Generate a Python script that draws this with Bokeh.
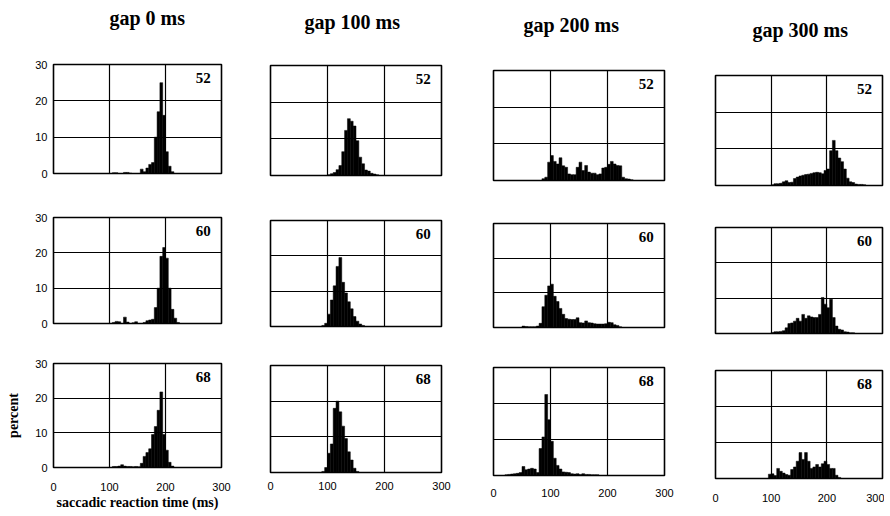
from bokeh.plotting import figure
from bokeh.layouts import row, column
from bokeh.models import Label, FixedTicker, Title
from bokeh.embed import file_html
from bokeh.resources import INLINE

# ---------------- data ----------------
gap_titles = ["gap 0 ms", "gap 100 ms", "gap 200 ms", "gap 300 ms"]
panel_tags = ["52", "60", "68"]
x_tick_values = [0, 100, 200, 300]
y_tick_values = [0, 10, 20, 30]
x_grid_values = [100, 200]
y_grid_values = [10, 20]
bin_ms = 5
x_label = "saccadic reaction time (ms)"
y_label = "percent"

# first bin (ms) and percent of saccades in consecutive 5-ms bins
gap0_52_start = 105
gap0_52 = [0.2, 0.2, 0.0, 0.0, 0.3, 0.3, 0.1, 0.0, 0.0, 0.0, 1.2, 0.5, 1.5, 2.5, 3.0,
           10.0, 17.0, 25.0, 16.0, 6.0, 2.0, 0.5]
gap0_60_start = 105
gap0_60 = [0.3, 0.6, 0.5, 0.0, 1.8, 0.4, 0.0, 0.2, 0.5, 0.0, 0.0, 0.3, 0.8, 1.0, 1.2,
           4.5, 10.0, 19.0, 21.5, 18.5, 10.0, 4.0, 1.5, 0.3]
gap0_68_start = 105
gap0_68 = [0.3, 0.3, 0.4, 0.8, 0.4, 0.3, 0.3, 0.2, 0.3, 0.2, 1.2, 3.2, 4.3, 5.4, 9.5,
           11.8, 16.5, 21.8, 9.5, 5.0, 1.5, 0.4]

gap100_52_start = 100
gap100_52 = [0.2, 0.5, 0.8, 1.6, 2.7, 6.5, 12.3, 15.5, 14.8, 13.5, 9.5, 5.0, 3.2, 1.5,
             1.2, 0.6, 0.4, 0.2]
gap100_60_start = 90
gap100_60 = [0.3, 0.9, 3.5, 7.5, 11.5, 17.0, 19.5, 12.5, 9.5, 7.0, 5.0, 2.8, 1.5, 0.7, 0.3]
gap100_68_start = 90
gap100_68 = [0.3, 1.4, 5.4, 8.0, 18.0, 20.0, 17.0, 13.0, 9.5, 5.8, 3.5, 1.2, 0.3]

gap200_52_start = 85
gap200_52 = [0.5, 0.9, 5.0, 6.8, 5.2, 4.5, 6.2, 4.0, 3.6, 1.8, 1.6, 1.6, 3.6, 5.0, 2.7,
             4.1, 2.3, 2.0, 2.0, 1.6, 1.8, 3.4, 3.6, 4.4, 5.2, 4.5, 4.1, 4.0, 0.9, 0.5,
             0.4, 0.2]
gap200_60_start = 50
gap200_60 = [0.4, 0.3, 0.2, 0.2, 0.2, 0.4, 1.2, 6.0, 9.3, 12.0, 12.5, 9.0, 7.5, 5.5, 3.8,
             2.6, 2.4, 2.3, 2.3, 2.8, 1.4, 1.3, 1.9, 1.4, 1.3, 1.1, 1.0, 1.0, 1.0, 1.1,
             1.5, 1.4, 0.8, 0.6, 0.2]
gap200_68_start = 20
gap200_68 = [0.2, 0.3, 0.4, 0.5, 0.6, 0.8, 2.5, 1.6, 1.8, 2.0, 1.8, 0.8, 7.5, 10.7, 22.5,
             15.5, 9.5, 4.8, 2.8, 1.8, 1.0, 0.9, 0.8, 0.5, 0.4, 0.5, 0.3, 0.5, 0.3, 0.3,
             0.2, 0.2, 0.2]

gap300_52_start = 100
gap300_52 = [0.2, 0.5, 0.5, 0.6, 1.0, 1.3, 0.8, 0.9, 1.9, 2.3, 2.6, 2.8, 3.0, 3.1, 3.3,
             3.5, 3.6, 3.5, 3.2, 4.1, 4.5, 9.5, 12.3, 9.5, 7.5, 6.5, 4.5, 2.0, 1.0, 0.8,
             0.4, 0.3, 0.3, 0.2]
gap300_60_start = 100
gap300_60 = [0.3, 0.5, 0.5, 0.6, 0.8, 1.6, 2.8, 3.0, 3.5, 4.3, 3.5, 5.4, 4.3, 5.0, 4.7,
             4.5, 4.5, 5.4, 10.2, 8.3, 7.3, 9.7, 4.5, 2.1, 1.2, 1.0, 0.5, 0.4, 0.2, 0.2]
gap300_68_start = 95
gap300_68 = [1.2, 1.3, 0.8, 2.8, 2.0, 1.5, 1.1, 0.9, 2.5, 3.2, 4.8, 7.2, 5.3, 7.2, 4.8,
             2.8, 3.2, 3.9, 3.2, 4.1, 4.8, 3.9, 2.8, 2.8, 0.9, 0.3]

series = [
    [(gap0_52_start, gap0_52), (gap0_60_start, gap0_60), (gap0_68_start, gap0_68)],
    [(gap100_52_start, gap100_52), (gap100_60_start, gap100_60), (gap100_68_start, gap100_68)],
    [(gap200_52_start, gap200_52), (gap200_60_start, gap200_60), (gap200_68_start, gap200_68)],
    [(gap300_52_start, gap300_52), (gap300_60_start, gap300_60), (gap300_68_start, gap300_68)],
]

# ---------------- layout / style ----------------
SERIF = "Liberation Serif"
SANS = "Liberation Sans"
col_frame_w = [168, 171, 171, 167]
col_border_lr = [(53, 10), (39, 10), (42, 10), (41, 2)]
col_rows = [  # (top border, frame height, bottom border)
    [(64, 109, 22), (22, 106, 20), (20, 105, 44)],
    [(65, 110, 22), (23, 106, 20), (19, 107, 36)],
    [(70, 110, 22), (21, 104, 20), (20, 108, 33)],
    [(75, 110, 20), (22, 106, 18), (19, 108, 30)],
]
title_gap = [32, 29, 31, 31]
title_offset = [56, 34, 30, 37]
xtick_standoff = [15, 9, 13, 15]

columns = []
for c in range(4):
    bl, br = col_border_lr[c]
    figs = []
    for r in range(3):
        bt, fh, bb = col_rows[c][r]
        p = figure(width=bl + col_frame_w[c] + br, height=bt + fh + bb,
                   x_range=(0, 300), y_range=(0, 30),
                   min_border_left=bl, min_border_right=br,
                   min_border_top=bt, min_border_bottom=bb,
                   toolbar_location=None, output_backend="svg")
        p.background_fill_color = "white"
        p.border_fill_color = "white"
        p.outline_line_color = "black"
        p.outline_line_width = 1.6
        p.outline_line_alpha = 1.0

        if r == 0:
            spacer = Title(text=" ", text_font_size="2px", standoff=title_gap[c])
            head = Title(text=gap_titles[c], align="left", offset=title_offset[c],
                         vertical_align="bottom", standoff=0,
                         text_font=SERIF, text_font_style="bold",
                         text_font_size="20px", text_color="black")
            p.add_layout(spacer, "above")
            p.add_layout(head, "above")

        for ax in (p.xaxis[0], p.yaxis[0]):
            ax.axis_line_color = None
            ax.major_tick_line_color = None
            ax.minor_tick_line_color = None
            ax.major_tick_out = 0
            ax.major_tick_in = 0
            ax.major_label_text_font = SANS
            ax.major_label_text_font_size = "11px"
            ax.major_label_text_color = "black"
            ax.axis_label_text_font = SERIF
            ax.axis_label_text_font_style = "bold"
            ax.axis_label_text_font_size = "14px"
            ax.axis_label_text_color = "black"
        p.xaxis.ticker = FixedTicker(ticks=x_tick_values)
        p.yaxis.ticker = FixedTicker(ticks=y_tick_values)
        p.xaxis.major_label_standoff = xtick_standoff[c]
        p.yaxis.major_label_standoff = 6
        if c != 0:
            p.yaxis.visible = False
        if r != 2:
            p.xaxis.visible = False
        if c == 0 and r == 2:
            p.yaxis.axis_label = y_label
            p.yaxis.axis_label_standoff = 11
            p.xaxis.axis_label = x_label
            p.xaxis.axis_label_standoff = 1

        p.xgrid.ticker = FixedTicker(ticks=x_grid_values)
        p.ygrid.ticker = FixedTicker(ticks=y_grid_values)
        for g in (p.xgrid[0], p.ygrid[0]):
            g.grid_line_color = "black"
            g.grid_line_width = 1.2
            g.grid_line_alpha = 1.0

        start, vals = series[c][r]
        lefts = [start + bin_ms * i for i in range(len(vals))]
        rights = [v + bin_ms for v in lefts]
        p.quad(left=lefts, right=rights, bottom=0, top=vals,
               fill_color="black", line_color="black", line_width=0.5)

        p.add_layout(Label(x=281, y=27.6, text=panel_tags[r], text_align="right",
                           text_baseline="top", text_font=SERIF, text_font_style="bold",
                           text_font_size="15px", text_color="black"))
        figs.append(p)
    columns.append(column(*figs, spacing=0))

layout = row(*columns, spacing=0)
open("out.html", "w").write(file_html(layout, INLINE))
